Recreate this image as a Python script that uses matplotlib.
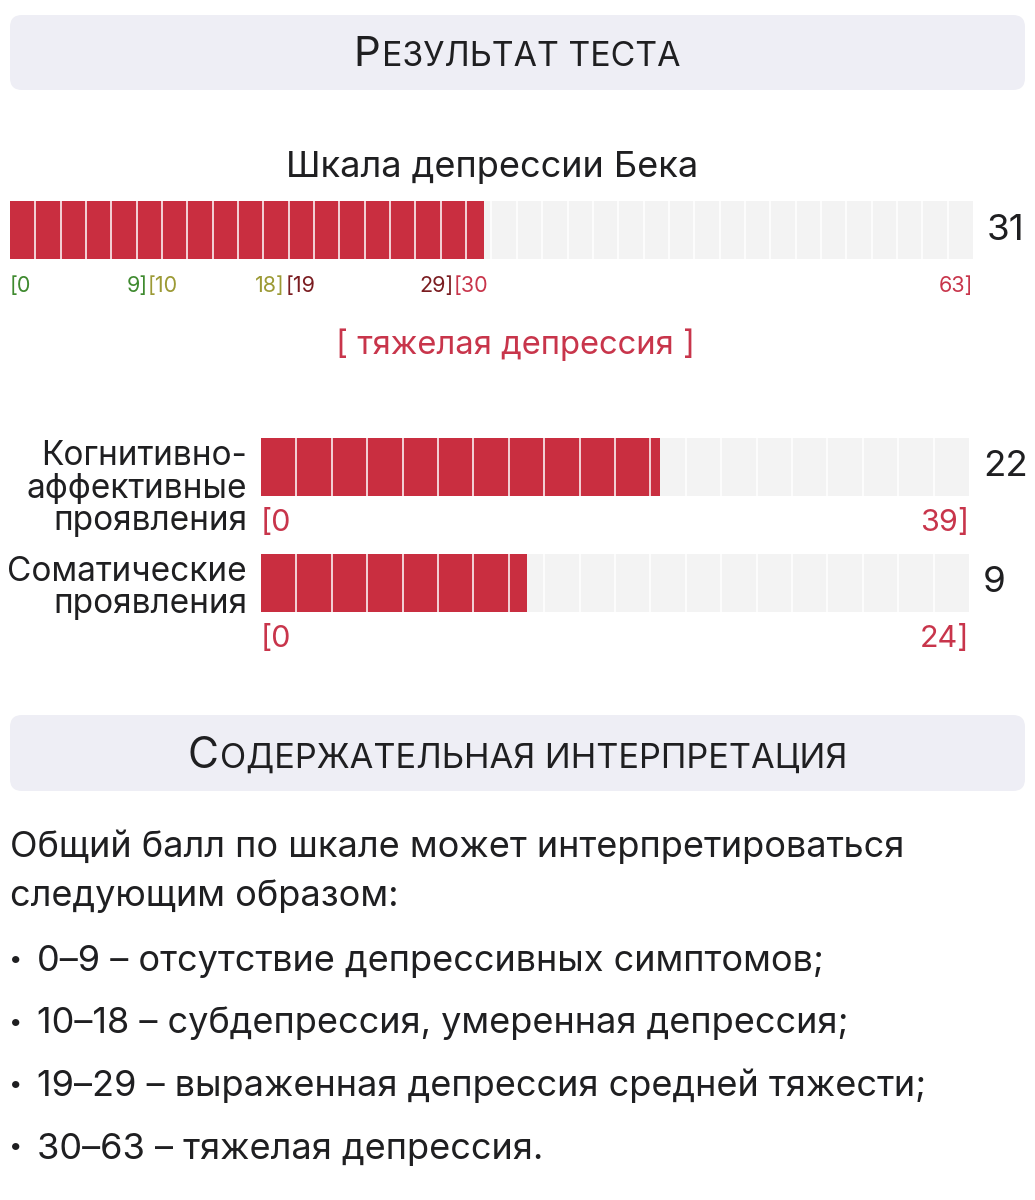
import numpy as np
import matplotlib
matplotlib.use("Agg")
import matplotlib.pyplot as plt
from matplotlib.patches import FancyBboxPatch
from matplotlib.offsetbox import TextArea, HPacker, AnnotationBbox

plt.rcParams['font.family'] = ['Inter', 'DejaVu Sans']

# data
header_1 = "Результат теста"
header_2 = "Содержательная интерпретация"
scale_title = "Шкала депрессии Бека"
total_score = 31
total_max = 63
range_labels = [("[0", 0, "left"), ("9]", 9, "right"), ("[10", 9, "left"), ("18]", 18, "right"),
                ("[19", 18, "left"), ("29]", 29, "right"), ("[30", 29, "left"), ("63]", 63, "right")]
range_colors = ["#3f8a2f", "#3f8a2f", "#9c9a35", "#9c9a35", "#7a1c20", "#7a1c20", "#c8354b", "#c8354b"]
verdict = "[ тяжелая депрессия ]"
sub_names = [["Когнитивно-", "аффективные", "проявления"], ["Соматические", "проявления"]]
sub_scores = [22, 9]
sub_max = [39, 24]
intro_lines = ["Общий балл по шкале может интерпретироваться", "следующим образом:"]
bullets = ["0–9 – отсутствие депрессивных симптомов;",
           "10–18 – субдепрессия, умеренная депрессия;",
           "19–29 – выраженная депрессия средней тяжести;",
           "30–63 – тяжелая депрессия."]

W, H = 1035, 1200
RED = "#c92e40"
EMPTY = "#f3f3f3"
TXT = "#1f1f21"
BOX = "#eeeef5"

fig = plt.figure(figsize=(W / 100, H / 100), dpi=100)
bg = fig.add_axes([0, 0, 1, 1])
bg.set_xlim(0, W)
bg.set_ylim(H, 0)
bg.axis("off")


def header(text, y0, y1, scale=1.0):
    bg.add_patch(FancyBboxPatch((10, y0), 1015, y1 - y0, boxstyle="round,pad=0,rounding_size=12",
                                fc=BOX, ec="none"))
    big = TextArea(text[0].upper(), textprops=dict(fontsize=28.5 * scale, color=TXT))
    small = TextArea(text[1:].upper(), textprops=dict(fontsize=23 * scale, color=TXT))
    pack = HPacker(children=[big, small], align="baseline", pad=0, sep=1)
    bg.add_artist(AnnotationBbox(pack, (517, (y0 + y1) / 2 + 3), xycoords="data",
                                 frameon=False, box_alignment=(0.5, 0.5)))


def bar_axes(x0, y0, x1, y1):
    return fig.add_axes([x0 / W, 1 - y1 / H, (x1 - x0) / W, (y1 - y0) / H])


def seg_bar(ax, value, vmax, nseg):
    ax.set_xlim(0, vmax)
    ax.set_ylim(0, 1)
    ax.barh(0.5, vmax, height=1, color=EMPTY, lw=0)
    ax.barh(0.5, value, height=1, color=RED, lw=0)
    ax.vlines(np.linspace(0, vmax, nseg + 1)[1:-1], 0, 1, color="white", lw=1.3, alpha=0.85)
    ax.axis("off")


header(header_1, 15, 90, 1.06)
bg.text(492, 177, scale_title, ha="center", va="baseline", fontsize=26, color=TXT)

# total score bar
ax = bar_axes(10, 201, 973, 259)
seg_bar(ax, total_score, total_max, 38)
for (lab, v, ha), c in zip(range_labels, range_colors):
    ax.text(v, -0.46, lab, ha=ha, va="center", fontsize=15.5, color=c,
            transform=ax.get_xaxis_transform())
ax.text(1 + 14 / 963, 0.5, str(total_score), ha="left", va="center", fontsize=26.5, color=TXT,
        transform=ax.transAxes)

bg.text(516, 354, verdict, ha="center", va="baseline", fontsize=23.6, color="#c8354b")

# subscales
for i, (names, sc, mx) in enumerate(zip(sub_names, sub_scores, sub_max)):
    top = 438 + i * 116
    ax = bar_axes(261, top, 969, top + 58)
    seg_bar(ax, sc, mx, 20)
    ax.text(0, -0.47, "[0", ha="left", va="center", fontsize=22, color="#c8354b",
            transform=ax.get_xaxis_transform())
    ax.text(mx, -0.47, f"{mx}]", ha="right", va="center", fontsize=22, color="#c8354b",
            transform=ax.get_xaxis_transform())
    ax.text(1 + 14 / 708, 0.5, str(sc), ha="left", va="center", fontsize=26.5, color=TXT,
            transform=ax.transAxes)
    for j, line in enumerate(names):
        bg.text(247, top + 27 + j * 32.5, line, ha="right", va="baseline", fontsize=24, color=TXT)

header(header_2, 715, 791, 1.075)

for j, line in enumerate(intro_lines):
    bg.text(10, 857 + j * 49, line, ha="left", va="baseline", fontsize=26, color=TXT)
for j, line in enumerate(bullets):
    y = 971 + j * 62.5
    bg.text(16, y - 11, "•", ha="center", va="center", fontsize=17, color=TXT)
    bg.text(37, y, line, ha="left", va="baseline", fontsize=26, color=TXT)

fig.savefig("out.png", dpi=100)
